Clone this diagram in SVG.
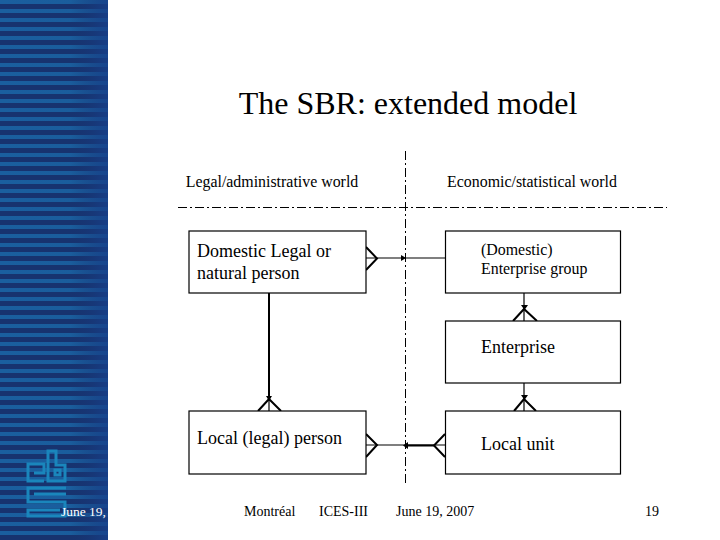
<svg xmlns="http://www.w3.org/2000/svg" width="720" height="540" viewBox="0 0 720 540">
<style>
text{font-family:"Liberation Serif","Times New Roman",serif;fill:#000}
.box{fill:#fff;stroke:#000;stroke-width:1.2}
.line{fill:none;stroke:#000;stroke-width:1.2}
.fork{fill:none;stroke:#000;stroke-width:2}
.thick{fill:none;stroke:#000;stroke-width:2}
.dash{fill:none;stroke:#000;stroke-width:1;stroke-dasharray:9 3 2 3}
.head{fill:#000}
.logo{fill:none;stroke:#1a86bc;stroke-width:3}
.lbl{font-size:18px}
.hdr{font-size:15.900px}
.foot{font-size:14px}
</style>
<defs>
<pattern id="stripes" width="8" height="9" patternUnits="userSpaceOnUse">
<rect width="8" height="9" fill="#17336f"/>
<rect y="0" width="8" height="4" fill="#1a5f9f"/>
</pattern>
<linearGradient id="fade" x1="0" x2="1" y1="0" y2="0">
<stop offset="0" stop-color="#17336f" stop-opacity="0"/>
<stop offset="0.65" stop-color="#17336f" stop-opacity="0.05"/>
<stop offset="1" stop-color="#17408a" stop-opacity="0.85"/>
</linearGradient>
</defs>
<rect width="720" height="540" fill="#fff"/>
<g id="sidebar">
<rect width="108" height="540" fill="url(#stripes)"/>
<rect width="108" height="540" fill="url(#fade)"/>
<path class="logo" d="M44 481H28V464H44V473H34M48 451H56V465H65V481H48ZM55 470H60V475H55ZM66 488H28V502H65V516H28V510H60M34 494H66"/>
<text x="61" y="516" style="fill:#fff;font-size:13.500px">June 19,</text>
</g>
<text id="title" x="408" y="114" font-size="32" text-anchor="middle">The SBR: extended model</text>
<text id="left-world" class="hdr" x="272" y="187" text-anchor="middle">Legal/administrative world</text>
<text id="right-world" class="hdr" x="532" y="187" text-anchor="middle">Economic/statistical world</text>
<g id="connectors">
<path class="dash" d="M405.500 151V486"/>
<path class="dash" d="M178 207.500H667"/>
<path class="line" d="M366 258H445"/>
<path class="fork" d="M366 247L377 258.500L366 270"/>
<path class="head" d="M401 255L406 258L401 261Z"/>
<path class="line" d="M524 293V321"/>
<path class="fork" d="M513 321L524 309L537 321"/>
<path class="head" d="M521 305H528L524.500 310Z"/>
<path class="line" d="M524 383V411"/>
<path class="fork" d="M514 411L524 399L536 411"/>
<path class="head" d="M521 395H528L524.500 400Z"/>
<path class="thick" d="M269 293V400"/>
<path class="line" d="M269 400V411"/>
<path class="fork" d="M258 411L269 399L281 411"/>
<path class="head" d="M266 396H272L269 401Z"/>
<path class="line" d="M366 445H445"/>
<path class="fork" d="M366 434L377 445L366 457"/>
<path class="thick" d="M408 445.500H434"/>
<path class="fork" d="M445 434L434 445.500L445 457"/>
<path class="head" d="M408 442V449L403 445.500Z"/>
</g>
<g id="legal-person">
<rect class="box" x="189" y="231" width="177" height="62"/>
<text class="lbl" x="197" y="257">Domestic Legal or</text>
<text class="lbl" x="197" y="279">natural person</text>
</g>
<g id="enterprise-group">
<rect class="box" x="445.500" y="231" width="175" height="62"/>
<text class="hdr" x="481" y="255">(Domestic)</text>
<text class="hdr" x="481" y="274">Enterprise group</text>
</g>
<g id="enterprise">
<rect class="box" x="445.500" y="321" width="175" height="62"/>
<text class="lbl" x="481" y="353">Enterprise</text>
</g>
<g id="local-person">
<rect class="box" x="189" y="411" width="177" height="63"/>
<text class="lbl" x="197" y="444">Local (legal) person</text>
</g>
<g id="local-unit">
<rect class="box" x="445.500" y="411" width="175" height="63"/>
<text class="lbl" x="481" y="450">Local unit</text>
</g>
<g id="footer">
<text class="foot" x="244" y="516">Montréal</text>
<text class="foot" x="319" y="516">ICES-III</text>
<text class="foot" x="396" y="516">June 19, 2007</text>
<text class="foot" x="645" y="516">19</text>
</g>
</svg>
